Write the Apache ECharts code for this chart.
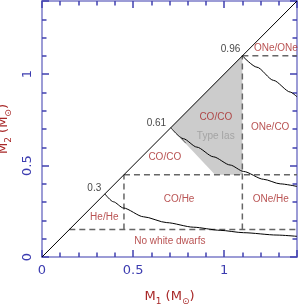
<!DOCTYPE html>
<html>
<head>
<meta charset="utf-8">
<script src="https://cdn.jsdelivr.net/npm/echarts@6/dist/echarts.min.js"></script>
<style>html,body{margin:0;padding:0;background:#fff}#c{width:299px;height:307px}</style>
</head>
<body>
<div id="c"></div>
<script>
// ---- data ----
const axisMin = 0, axisMax = 1.4;
const majorStep = 0.5, minorStep = 0.1;
const diagonal = [[0, 0], [1.4, 1.4]];
const heLimitCurve = [[0.345, 0.345], [0.392, 0.302], [0.447, 0.268], [0.557, 0.220], [0.685, 0.188], [0.831, 0.163], [0.978, 0.146], [1.106, 0.133], [1.29, 0.120], [1.40, 0.113]];
const coLimitCurve = [[0.707, 0.707], [0.776, 0.647], [0.850, 0.601], [0.941, 0.548], [1.033, 0.503], [1.106, 0.468], [1.216, 0.425], [1.308, 0.400], [1.40, 0.386]];
const oneLimitCurve = [[1.1, 1.1], [1.18, 1.038], [1.271, 0.966], [1.363, 0.902], [1.4, 0.876]];
const coEdgeSegment = [[0.707, 0.707], [0.79, 0.622]];
const dashedLines = [
  [[0.15, 0.15], [1.4, 0.15]],
  [[0.45, 0.15], [0.45, 0.45]],
  [[0.45, 0.45], [1.4, 0.45]],
  [[1.1, 0.15], [1.1, 1.1]],
  [[1.1, 1.1], [1.4, 1.1]]
];
const typeIaRegion = [[0.707, 0.707], [1.1, 1.1], [1.1, 0.45], [0.95, 0.45]];
const regionNames = ['ONe/ONe', 'CO/CO', 'ONe/CO', 'CO/CO', 'CO/He', 'ONe/He', 'He/He', 'No white dwarfs'];
const regionPos = [[1.284, 1.141], [0.954, 0.764], [1.253, 0.712], [0.674, 0.545], [0.753, 0.315], [1.256, 0.315], [0.342, 0.215], [0.702, 0.084]];
const massNames = ['0.96', '0.61', '0.3'];
const massPos = [[1.035, 1.137], [0.628, 0.734], [0.287, 0.376]];
const typeIaName = 'Type Ias';
const typeIaPos = [0.954, 0.663];

// ---- styles ----
const frameColor = '#9c9cd6';
const tickColor = '#4040b0';
const labelBlue = '#3c3cb0';
const darkRed = '#a82828';

function fmtTick(v) {
  const k = v / majorStep;
  return Math.abs(k - Math.round(k)) < 1e-6 ? String(+v.toFixed(1)) : '';
}
function makeAxis(gridIndex, position, major, withLabels, isY) {
  return {
    gridIndex: gridIndex, type: 'value', min: axisMin, max: axisMax, position: position,
    interval: major ? majorStep : minorStep,
    axisLine: { show: true, onZero: false, lineStyle: { color: frameColor, width: 2 } },
    axisTick: { show: true, inside: true, length: major ? 7 : 4.5, lineStyle: { color: tickColor, width: 1.5 } },
    splitLine: { show: false },
    axisLabel: withLabels ? {
      show: true, color: labelBlue, fontFamily: 'DejaVu Sans', fontSize: 13,
      formatter: fmtTick, margin: isY ? 8 : 7, rotate: isY ? 90 : 0
    } : { show: false }
  };
}
const xAxes = [
  makeAxis(0, 'bottom', true, true, false), makeAxis(0, 'top', true, false, false),
  makeAxis(1, 'bottom', false, false, false), makeAxis(1, 'top', false, false, false)
];
const yAxes = [
  makeAxis(0, 'left', true, true, true), makeAxis(0, 'right', true, false, true),
  makeAxis(1, 'left', false, false, true), makeAxis(1, 'right', false, false, true)
];
const richName = {
  m: { fontFamily: 'DejaVu Sans', fontSize: 13, color: darkRed, lineHeight: 18 },
  s: { fontFamily: 'DejaVu Sans', fontSize: 9, color: darkRed, lineHeight: 9, verticalAlign: 'bottom' }
};
xAxes[0].name = '{m|M}{s|1}{m| (M}{s|⊙}{m|)}';
xAxes[0].nameLocation = 'middle';
xAxes[0].nameGap = 31;
xAxes[0].nameTextStyle = { rich: richName };
yAxes[0].name = '{m|M}{s|2}{m| (M}{s|⊙}{m|)}';
yAxes[0].nameLocation = 'middle';
yAxes[0].nameGap = 18;
yAxes[0].nameRotate = 90;
yAxes[0].nameTextStyle = { rich: richName };

const series = [];
series.push({
  type: 'custom', silent: true, z: 1,
  renderItem: function (params, api) {
    const pts = typeIaRegion.map(p => api.coord(p));
    return { type: 'polygon', shape: { points: pts }, style: { fill: '#cccccc', stroke: null } };
  },
  data: [0]
});
dashedLines.forEach(seg => series.push({
  type: 'line', data: seg, symbol: 'none', silent: true, z: 2,
  lineStyle: { color: '#666666', width: 1.5, type: [6, 4] }
}));
function solid(d, smooth) {
  return { type: 'line', data: d, symbol: 'none', silent: true, z: 3, smooth: smooth ? 0.25 : false, smoothMonotone: 'x',
    lineStyle: { color: '#000', width: 1 } };
}
series.push(solid(diagonal, false));
series.push(solid(heLimitCurve, true));
series.push(solid(coLimitCurve, true));
series.push(solid(oneLimitCurve, true));
series.push(Object.assign(solid(coEdgeSegment, false), { lineStyle: { color: '#555', width: 1 } }));
function labels(names, pos, color) {
  return {
    type: 'scatter', symbolSize: 1, silent: true, z: 5,
    itemStyle: { color: 'rgba(0,0,0,0)' },
    label: { show: true, position: 'inside', formatter: p => p.name, color: color, fontFamily: 'Liberation Sans', fontSize: 10 },
    data: names.map((n, i) => ({ name: n, value: pos[i] }))
  };
}
series.push(labels(regionNames, regionPos, darkRed));
series.push(labels(massNames, massPos, '#111'));
series.push(labels([typeIaName], [typeIaPos], '#9a9a9a'));
series.forEach(s => { s.xAxisIndex = 0; s.yAxisIndex = 0; });

const gridBox = { left: 42, right: 2, top: 1, bottom: 50, containLabel: false, outerBoundsMode: 'none' };
const chart = echarts.init(document.getElementById('c'), null, { renderer: 'canvas' });
chart.setOption({
  animation: false,
  backgroundColor: '#fff',
  grid: [Object.assign({}, gridBox), Object.assign({}, gridBox)],
  xAxis: xAxes,
  yAxis: yAxes,
  series: series
});
</script>
</body>
</html>
